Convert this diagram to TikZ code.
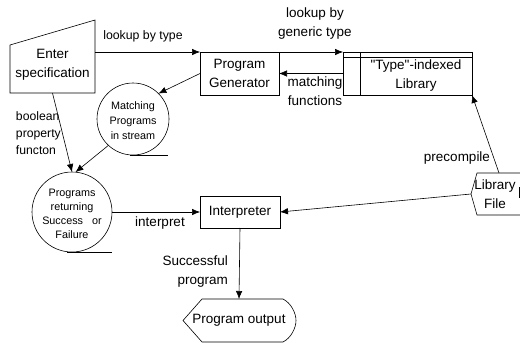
\documentclass[tikz,border=0pt]{standalone}
\usepackage{fontspec}
\setmainfont{Liberation Sans}
\usetikzlibrary{arrows.meta}
\begin{document}
\begin{tikzpicture}[x=1pt,y=-1pt,
  every node/.style={inner sep=0pt,outer sep=0pt},
  lbl/.style={font=\fontsize{13.5}{19}\selectfont,align=center},
  lblsm/.style={font=\fontsize{12.2}{17}\selectfont,align=left},
  circtxt/.style={font=\fontsize{10.8}{15}\selectfont,align=center},
  procbox/.style={draw,line width=0.6pt,rectangle,font=\fontsize{13.5}{19}\selectfont,align=center},
  storecirc/.style={draw,line width=0.6pt,circle},
  flow/.style={line width=0.6pt,-{Latex[length=8pt,width=6.5pt]}},
  edge/.style={line width=0.6pt}]
\useasboundingbox (0,0) rectangle (520,343);

% manual input: Enter specification
\node[lbl,minimum width=85pt,minimum height=57pt] (enter) at (52.5,64.5) {Enter\\specification};
\draw[edge] (10,45) -- (95,20) -- (95,93) -- (10,93) -- cycle;

% processes
\node[procbox,minimum width=79pt,minimum height=43pt] (pg) at (239.5,73.5) {Program\\Generator};
\node[procbox,minimum width=80pt,minimum height=32pt] (interp) at (240,212) {Interpreter};

% indexed library store
\node[draw,line width=0.6pt,minimum width=129pt,minimum height=43pt] (lib) at (407.5,73.5) {};
\draw[edge] (343,57) -- (472,57);
\draw[edge] (360,52) -- (360,95);
\node[lbl] (libtxt) at (416,76) {\textquotedbl Type\textquotedbl -indexed\\Library};

% stream circles
\node[storecirc,minimum size=72pt] (match) at (133,119) {};
\node[circtxt] (matchtxt) at (133,121) {Matching\\Programs\\in stream};
\draw[edge] (130,155) -- (168,155);

\node[storecirc,minimum size=80pt] (ret) at (72,212) {};
\node[circtxt,font=\fontsize{10.8}{13.8}\selectfont] (rettxt) at (72,214) {Programs\\returning\\Success~~ or\\Failure};
\draw[edge] (67,252) -- (112,252);

% library file (display shape)
\node[lbl,minimum width=48pt,minimum height=42pt] (libfile) at (495,194) {Library\\File};
\draw[edge] (530,173) -- (477,173) -- (471,194) -- (477,215) -- (530,215);
\draw[edge] (519,187) -- (519,198);

% program output (display shape)
\node[lbl,minimum width=112pt,minimum height=43pt] (out) at (239,320.5) {Program output};
\draw[edge] (202,299) -- (283,299) .. controls (291,303) and (296,313) .. (296,320.5)
  .. controls (296,328) and (291,338) .. (283,342) -- (202,342) -- (183,320.5) -- cycle;

% connectors
\draw[flow] ([yshift=12.5pt]enter.east) -- (pg.north west);
\draw[flow] (pg.north east) -- (lib.north west);
\draw[flow] (lib.west) -- (pg.east);
\draw[flow] (pg.west) -- (match.45);
\draw[flow] (enter.south) -- (ret.north);
\draw[flow] (match.227) -- (ret.85);
\draw[flow] (ret.east) -- (interp.west);
\draw[flow] (libfile.west) -- (interp.east);
\draw[flow] ([xshift=4pt]libfile.north) -- (lib.south east);
\draw[flow] (interp.south) -- (out.north);

% connector labels
\node[font=\fontsize{12.3}{17}\selectfont] (l1) at (143,36) {lookup by type};
\node[lbl] (l2) at (315,24) {lookup by\\generic type};
\node[lbl] (l3) at (315,91) {matching\\functions};
\node[lblsm,anchor=west] (l4) at (16,133) {boolean\\property\\functon};
\node[lbl] (l5) at (160,223) {interpret};
\node[lbl] (l6) at (457,158) {precompile};
\node[lbl,align=right,anchor=east] (l7) at (228,272) {Successful\\program};
\end{tikzpicture}
\end{document}
